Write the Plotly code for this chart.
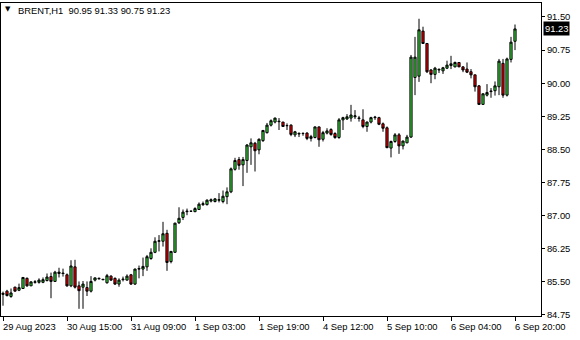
import plotly.graph_objects as go

symbol = "BRENT,H1"

opens = [85.24, 85.29, 85.17, 85.38, 85.31, 85.35, 85.58, 85.41, 85.49, 85.49,
         85.49, 85.53, 85.62, 85.51, 85.69, 85.70, 85.66, 85.41, 85.84, 85.41,
         85.38, 85.37, 85.29, 85.54, 85.58, 85.56, 85.48, 85.63, 85.58, 85.45,
         85.55, 85.54, 85.66, 85.45, 85.79, 85.79, 85.84, 86.03, 86.17, 86.42,
         86.42, 86.60, 85.96, 86.17, 86.84, 86.96, 87.09, 87.10, 87.09, 87.14,
         87.25, 87.25, 87.33, 87.32, 87.35, 87.32, 87.43, 87.54, 88.05, 88.27,
         88.15, 88.25, 88.56, 88.64, 88.49, 88.70, 88.88, 89.05, 89.12, 89.14,
         89.12, 89.04, 89.05, 88.83, 88.85, 88.86, 88.87, 88.75, 88.77, 89.01,
         88.73, 88.87, 88.95, 88.86, 88.77, 89.17, 89.19, 89.21, 89.24, 89.20,
         89.17, 89.02, 89.12, 89.22, 89.22, 89.08, 88.99, 88.53, 88.68, 88.83,
         88.58, 88.65, 88.78, 90.13, 90.16, 91.18, 90.90, 90.30, 90.20, 90.30,
         90.28, 90.34, 90.40, 90.37, 90.47, 90.37, 90.32, 90.26, 90.19, 89.94,
         89.52, 89.73, 89.81, 89.83, 89.92, 90.45, 89.73, 90.54, 90.95]
highs = [85.28, 85.32, 85.35, 85.39, 85.46, 85.61, 85.60, 85.51, 85.54, 85.58,
         85.60, 85.69, 85.71, 85.75, 85.82, 85.80, 85.69, 85.99, 86.00, 85.51,
         85.52, 85.51, 85.63, 85.60, 85.60, 85.56, 85.68, 85.65, 85.60, 85.58,
         85.62, 85.67, 85.68, 85.80, 85.87, 86.05, 86.11, 86.26, 86.51, 86.56,
         86.86, 86.68, 86.20, 86.84, 87.19, 87.14, 87.16, 87.11, 87.19, 87.30,
         87.32, 87.37, 87.39, 87.40, 87.51, 87.57, 87.64, 88.09, 88.31, 88.33,
         88.33, 88.62, 88.75, 88.67, 88.75, 88.94, 89.10, 89.18, 89.22, 89.21,
         89.12, 89.09, 89.07, 88.92, 88.89, 88.89, 88.89, 88.83, 89.02, 89.02,
         88.92, 88.98, 88.98, 88.89, 89.21, 89.24, 89.30, 89.51, 89.39, 89.26,
         89.41, 89.13, 89.24, 89.26, 89.24, 89.11, 89.02, 88.70, 88.87, 88.87,
         88.70, 88.83, 90.64, 91.05, 91.46, 91.28, 90.91, 90.32, 90.37, 90.34,
         90.37, 90.51, 90.62, 90.49, 90.48, 90.39, 90.47, 90.32, 90.19, 89.96,
         89.77, 89.98, 89.89, 90.04, 90.55, 90.55, 90.58, 91.05, 91.33]
lows = [84.96, 85.17, 85.14, 85.28, 85.29, 85.34, 85.39, 85.41, 85.46, 85.46,
        85.47, 85.51, 85.13, 85.50, 85.60, 85.62, 85.39, 85.38, 85.35, 84.89,
        84.89, 85.18, 85.26, 85.51, 85.56, 85.55, 85.46, 85.52, 85.43, 85.39,
        85.51, 85.53, 85.43, 85.43, 85.58, 85.63, 85.75, 86.00, 86.15, 86.19,
        86.30, 85.75, 85.92, 86.16, 86.81, 86.90, 87.01, 87.09, 87.08, 87.13,
        87.22, 87.23, 87.30, 87.30, 87.30, 87.28, 87.26, 87.51, 88.02, 88.04,
        87.67, 87.97, 88.15, 88.00, 88.39, 88.67, 88.86, 89.02, 89.09, 88.94,
        89.01, 88.94, 88.80, 88.78, 88.78, 88.81, 88.71, 88.68, 88.75, 88.56,
        88.68, 88.84, 88.81, 88.74, 88.74, 88.94, 89.17, 89.13, 89.19, 89.13,
        88.98, 88.90, 89.09, 89.17, 89.05, 88.90, 88.53, 88.32, 88.65, 88.40,
        88.50, 88.64, 88.76, 89.73, 90.03, 90.90, 90.23, 90.00, 90.09, 90.23,
        90.21, 90.32, 90.32, 90.36, 90.37, 90.25, 90.23, 90.11, 89.81, 89.51,
        89.51, 89.70, 89.67, 89.72, 89.73, 89.67, 89.70, 90.47, 90.75]
closes = [85.22, 85.19, 85.25, 85.29, 85.37, 85.60, 85.41, 85.50, 85.50, 85.54,
          85.55, 85.61, 85.51, 85.72, 85.72, 85.69, 85.41, 85.86, 85.38, 85.30,
          85.45, 85.29, 85.51, 85.59, 85.57, 85.55, 85.64, 85.54, 85.45, 85.54,
          85.56, 85.63, 85.45, 85.79, 85.80, 85.85, 86.07, 86.17, 86.42, 86.43,
          86.59, 85.94, 86.19, 86.83, 86.94, 87.08, 87.10, 87.10, 87.16, 87.26,
          87.27, 87.35, 87.36, 87.38, 87.36, 87.44, 87.54, 88.06, 88.25, 88.14,
          88.27, 88.60, 88.65, 88.47, 88.73, 88.93, 89.05, 89.15, 89.21, 89.13,
          89.02, 89.04, 88.84, 88.90, 88.86, 88.86, 88.75, 88.79, 89.01, 88.72,
          88.88, 88.92, 88.84, 88.77, 89.17, 89.22, 89.24, 89.28, 89.26, 89.21,
          89.02, 89.12, 89.22, 89.23, 89.07, 88.98, 88.54, 88.68, 88.83, 88.58,
          88.69, 88.78, 90.59, 90.59, 91.21, 90.90, 90.26, 90.20, 90.34, 90.31,
          90.35, 90.41, 90.44, 90.47, 90.37, 90.30, 90.25, 90.19, 89.92, 89.52,
          89.76, 89.79, 89.82, 89.94, 90.50, 89.73, 90.55, 90.93, 91.23]

tick_bars = [0, 16, 32, 48, 64, 80, 96, 112, 128]
tick_labels = ["29 Aug 2023", "30 Aug 15:00", "31 Aug 09:00", "1 Sep 03:00",
               "1 Sep 19:00", "4 Sep 12:00", "5 Sep 10:00", "6 Sep 04:00",
               "6 Sep 20:00"]
price_ticks = [84.75, 85.50, 86.25, 87.00, 87.75, 88.50, 89.25, 90.00, 90.75, 91.50]

bars = list(range(len(opens)))
FONT = "Liberation Sans, Arial, sans-serif"

fig = go.Figure(go.Candlestick(
    x=bars, open=opens, high=highs, low=lows, close=closes,
    increasing=dict(line=dict(color="black", width=1), fillcolor="#3EE03E"),
    decreasing=dict(line=dict(color="black", width=1), fillcolor="#F00000"),
    whiskerwidth=0, hoverinfo="skip"))

fig.update_layout(
    width=580, height=340, margin=dict(l=1, r=39, t=3, b=24),
    paper_bgcolor="white", plot_bgcolor="white", showlegend=False, boxgap=0.22,
    font=dict(family=FONT, size=9.4, color="black"))

fig.update_xaxes(
    range=[-0.5, 134.5], rangeslider_visible=False, showgrid=False, zeroline=False,
    showline=True, linecolor="black", linewidth=1, mirror=True, automargin=False,
    tickmode="array", tickvals=tick_bars, ticktext=[""] * len(tick_bars),
    ticks="outside", ticklen=4, tickcolor="black", tickwidth=1)

fig.update_yaxes(
    side="right", range=[84.727, 91.817], showgrid=False, zeroline=False,
    showline=True, linecolor="black", linewidth=1, mirror=True, automargin=False,
    tickmode="array", tickvals=price_ticks, ticktext=[f"{v:.2f}" for v in price_ticks],
    ticks="outside", ticklen=3, tickcolor="black", tickwidth=1)

for b, lab in zip(tick_bars, tick_labels):
    fig.add_annotation(x=b, xref="x", y=0, yref="paper", yanchor="top", xanchor="left",
                       text=lab, showarrow=False, xshift=-2, yshift=-3,
                       font=dict(family=FONT, size=9.4, color="black"))

sp = "\u00a0"
header = f"{symbol}{sp}{sp}{opens[-1]:.2f} {highs[-1]:.2f} {lows[-1]:.2f} {closes[-1]:.2f}"
fig.add_annotation(x=0, xref="paper", y=1, yref="paper", xanchor="left", yanchor="top",
                   text=header, showarrow=False, xshift=15, yshift=0,
                   font=dict(family=FONT, size=9.4, color="black"))
fig.add_annotation(x=0, xref="paper", y=1, yref="paper", xanchor="left", yanchor="top",
                   text="\u25bc", showarrow=False, xshift=2, yshift=0,
                   font=dict(family="DejaVu Sans", size=7, color="black"))

fig.add_annotation(x=1, xref="paper", y=closes[-1], yref="y", xanchor="left", yanchor="middle",
                   text=f"{closes[-1]:.2f}", showarrow=False, xshift=2,
                   bgcolor="black", borderpad=1,
                   font=dict(family=FONT, size=9.4, color="white"))

fig.write_html("out.html")
